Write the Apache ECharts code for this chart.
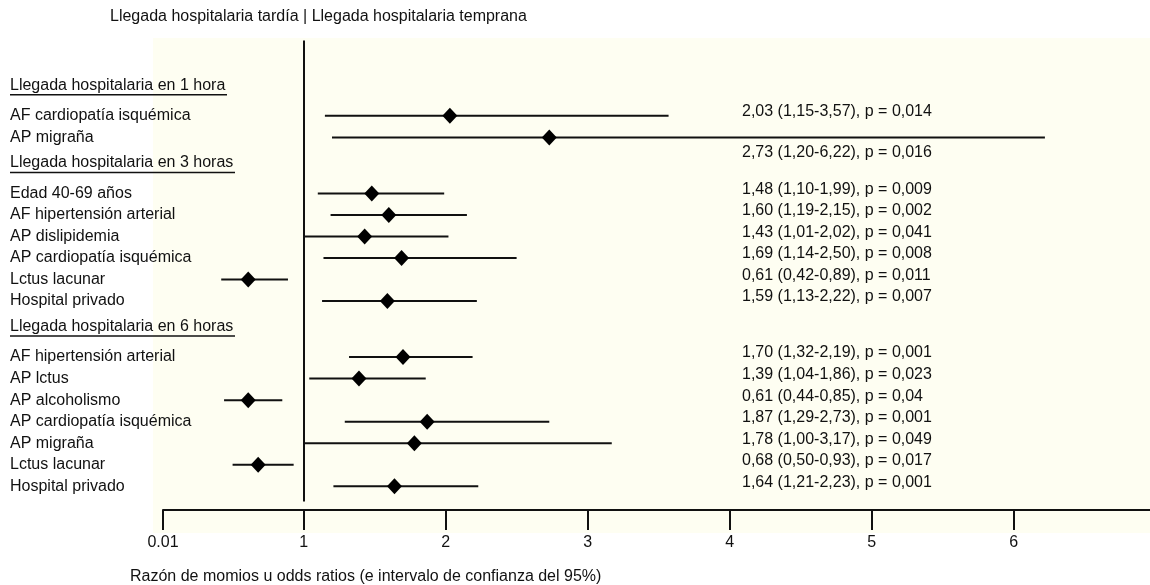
<!DOCTYPE html>
<html><head><meta charset="utf-8">
<script src="https://cdn.jsdelivr.net/npm/echarts@6/dist/echarts.min.js"></script>
<style>html,body{margin:0;padding:0;background:#fff}#c{width:1150px;height:585px}</style>
</head><body><div id="c"></div>
<script>
// ---------------- data ----------------
const topTitle = 'Llegada hospitalaria tardía | Llegada hospitalaria temprana';
const xAxisTitle = 'Razón de momios u odds ratios (e intervalo de confianza del 95%)';
const sectionTitles = ['Llegada hospitalaria en 1 hora', 'Llegada hospitalaria en 3 horas', 'Llegada hospitalaria en 6 horas'];
const rowSection = [0, 0, 1, 1, 1, 1, 1, 1, 2, 2, 2, 2, 2, 2, 2];
const rowLabels = [
  'AF cardiopatía isquémica', 'AP migraña',
  'Edad 40-69 años', 'AF hipertensión arterial', 'AP dislipidemia', 'AP cardiopatía isquémica', 'Lctus lacunar', 'Hospital privado',
  'AF hipertensión arterial', 'AP lctus', 'AP alcoholismo', 'AP cardiopatía isquémica', 'AP migraña', 'Lctus lacunar', 'Hospital privado'
];
const oddsRatio = [2.03, 2.73, 1.48, 1.60, 1.43, 1.69, 0.61, 1.59, 1.70, 1.39, 0.61, 1.87, 1.78, 0.68, 1.64];
const ciLow     = [1.15, 1.20, 1.10, 1.19, 1.01, 1.14, 0.42, 1.13, 1.32, 1.04, 0.44, 1.29, 1.00, 0.50, 1.21];
const ciHigh    = [3.57, 6.22, 1.99, 2.15, 2.02, 2.50, 0.89, 2.22, 2.19, 1.86, 0.85, 2.73, 3.17, 0.93, 2.23];
const pValues   = [0.014, 0.016, 0.009, 0.002, 0.041, 0.008, 0.011, 0.007, 0.001, 0.023, 0.04, 0.001, 0.049, 0.017, 0.001];
const xTickValues = [0.01, 1, 2, 3, 4, 5, 6];
const nullEffect = 1;

// ---------------- layout of rows (row units) ----------------
const HEADER_GAP = 1.3;
const STATS_COLUMN_VALUE = 4; // stats text column starts near OR = 4; CI lines reaching past it push the text below
const r2 = v => Math.round(v * 100) / 100;
const headerSlot = [], rowSlot = [];
let pos = 0;
sectionTitles.forEach((t, s) => {
  if (s > 0) pos += HEADER_GAP - 1;
  headerSlot.push(r2(pos));
  pos += HEADER_GAP;
  rowSection.forEach((sec, i) => { if (sec === s) { rowSlot[i] = r2(pos); pos += 1; } });
});
const key = v => Number(v).toFixed(2);
const leftLabel = {};
headerSlot.forEach((v, s) => { leftLabel[key(v)] = '{h|' + sectionTitles[s] + '}\n{u' + s + '|}'; });
rowSlot.forEach((v, i) => { leftLabel[key(v)] = rowLabels[i]; });
const statLabel = {};
const fmt = v => v.toFixed(2).replace('.', ',');
const inlineStatSlots = [], belowStatSlots = [];
rowSlot.forEach((v, i) => {
  statLabel[key(v)] = fmt(oddsRatio[i]) + ' (' + fmt(ciLow[i]) + '-' + fmt(ciHigh[i]) + '), p = ' + String(pValues[i]).replace('.', ',');
  (ciHigh[i] > STATS_COLUMN_VALUE ? belowStatSlots : inlineStatSlots).push(v);
});
const allSlots = headerSlot.concat(rowSlot).sort((a, b) => a - b);

const FONT = '"Liberation Sans", Arial, Helvetica, sans-serif';
const ctx = document.createElement('canvas').getContext('2d');
ctx.font = '16px ' + FONT;
const rich = { h: { fontSize: 16, lineHeight: 14, fontFamily: FONT, color: '#111' } };
sectionTitles.forEach((t, s) => {
  rich['u' + s] = { width: Math.ceil(ctx.measureText(t).width) + 1, height: 1.5, lineHeight: 5, backgroundColor: '#111' };
});
const statRich = {
  s: { fontSize: 16, fontFamily: FONT, color: '#111', lineHeight: 10, padding: [0, 0, 8, 0] },
  b: { fontSize: 16, fontFamily: FONT, color: '#111', lineHeight: 18, padding: [30, 0, 0, 0] }
};

const Y_MIN = -2.5, Y_MAX = 19.6;
// empty end labels (hidden) keep the real first/last stats labels out of the min/max overlap rule
const statsAxis = (slots, token) => ({
  type: 'value', inverse: true, min: Y_MIN, max: Y_MAX, position: 'left', offset: -579, splitLine: { show: false },
  axisLine: { show: false }, axisTick: { show: false },
  axisLabel: { customValues: [Y_MIN].concat(slots, [Y_MAX]), inside: true, margin: 0, fontSize: 16, color: '#111', fontFamily: FONT,
    showMinLabel: false, showMaxLabel: false, hideOverlap: false, rich: statRich,
    formatter: v => (statLabel[key(v)] ? '{' + token + '|' + statLabel[key(v)] + '}' : '') }
});

const chart = echarts.init(document.getElementById('c'), null, { renderer: 'canvas' });
const option = {
  animation: false,
  textStyle: { fontFamily: FONT },
  title: [
    { text: topTitle, left: 110, top: 9, padding: 0, textStyle: { fontSize: 16, fontWeight: 'normal', color: '#111', fontFamily: FONT } },
    { text: xAxisTitle, left: 130, top: 569, padding: 0, textStyle: { fontSize: 16, fontWeight: 'normal', color: '#111', fontFamily: FONT } }
  ],
  graphic: [{ type: 'rect', shape: { x: 153, y: 38, width: 997, height: 495 }, style: { fill: '#fefef2' }, z: -10, silent: true }],
  grid: { left: 163, right: 0, top: 34, bottom: 75, outerBoundsMode: 'none' },
  xAxis: {
    type: 'value', min: 0.01, max: 6.96, splitLine: { show: false },
    axisLine: { show: true, onZero: false, lineStyle: { color: '#111', width: 2 } },
    axisTick: { show: true, customValues: xTickValues, length: 20, lineStyle: { color: '#111', width: 2 } },
    axisLabel: { customValues: xTickValues, margin: 25, fontSize: 16, color: '#111', fontFamily: FONT,
      showMinLabel: true, showMaxLabel: true,
      formatter: v => (v < 1 ? v.toFixed(2) : String(v)) }
  },
  yAxis: [
    {
      type: 'value', inverse: true, min: Y_MIN, max: Y_MAX, splitLine: { show: false },
      axisLine: { show: false }, axisTick: { show: false },
      axisLabel: { customValues: allSlots, align: 'left', margin: 153, fontSize: 16, color: '#111', fontFamily: FONT,
        showMinLabel: true, showMaxLabel: true,
        formatter: v => leftLabel[key(v)] || '', rich: rich }
    },
    statsAxis(inlineStatSlots, 's'),
    statsAxis(belowStatSlots, 'b')
  ],
  series: [
    {
      type: 'custom', z: 3, silent: true,
      data: rowSlot.map((s, i) => [ciLow[i], ciHigh[i], s]),
      encode: { x: [0, 1], y: 2 },
      renderItem: (params, api) => {
        const a = api.coord([api.value(0), api.value(2)]);
        const b = api.coord([api.value(1), api.value(2)]);
        return { type: 'line', shape: { x1: a[0], y1: a[1], x2: b[0], y2: b[1] }, style: { stroke: '#111', lineWidth: 2 } };
      }
    },
    {
      type: 'scatter', z: 4, silent: true, symbol: 'diamond', symbolSize: [15, 16],
      data: rowSlot.map((s, i) => [oddsRatio[i], s]),
      itemStyle: { color: '#000', opacity: 1 },
      markLine: {
        silent: true, symbol: 'none', label: { show: false },
        lineStyle: { color: '#111', width: 2, type: 'solid' },
        data: [[{ coord: [nullEffect, Y_MIN + 0.3] }, { coord: [nullEffect, Y_MAX - 0.4] }]]
      }
    }
  ]
};
chart.setOption(option);
</script>
</body></html>
